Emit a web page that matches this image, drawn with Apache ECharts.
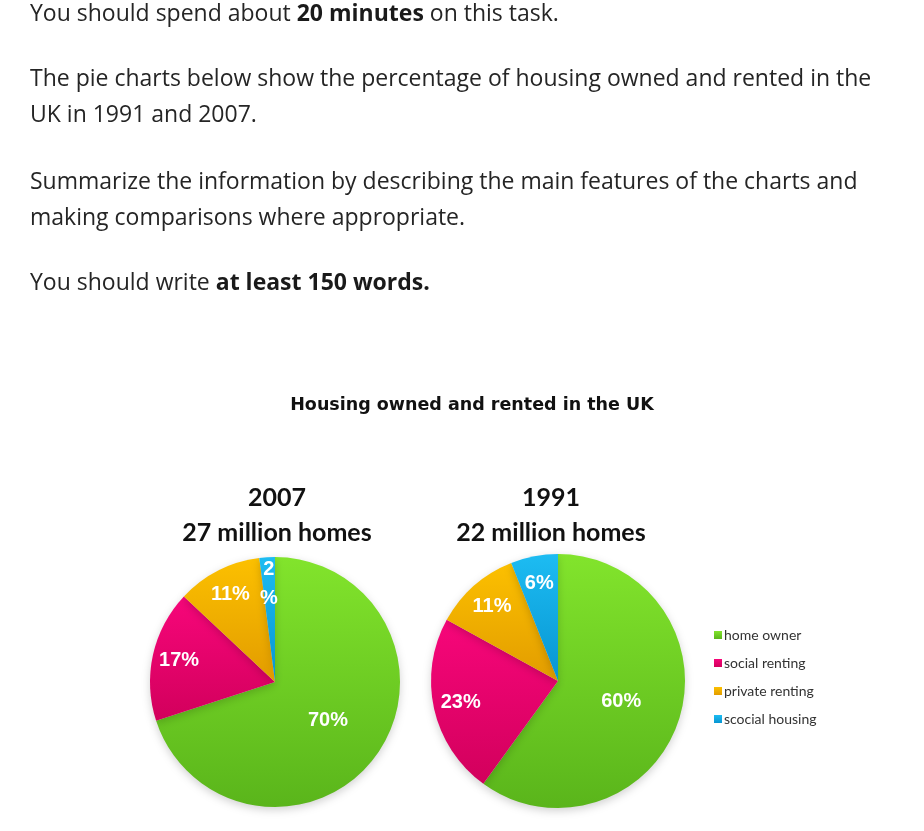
<!DOCTYPE html>
<html>
<head>
<meta charset="utf-8">
<script src="https://cdn.jsdelivr.net/npm/echarts@6/dist/echarts.min.js"></script>
<style>
  html, body { margin: 0; padding: 0; background: #fff; }
  #main { position: absolute; left: 0; top: 0; width: 924px; height: 831px; }
  .task { position: absolute; left: 30px; margin: 0; font-family: "Open Sans", sans-serif;
          font-size: 23px; line-height: 36px; color: #252525; z-index: 2; white-space: nowrap; }
  .task b { font-weight: 700; color: #1a1a1a; }
</style>
</head>
<body>
<p class="task" style="top:-6px;">You should spend about <b>20 minutes</b> on this task.</p>
<p class="task" style="top:59px;">The pie charts below show the percentage of housing owned and rented in the<br>UK in 1991 and 2007.</p>
<p class="task" style="top:162px;">Summarize the information by describing the main features of the charts and<br>making comparisons where appropriate.</p>
<p class="task" style="top:263px;">You should write <b>at least 150 words.</b></p>
<div id="main"></div>
<script>
// categories (legend keeps the original spelling)
const categories = ['home owner', 'social renting', 'private renting', 'scocial housing']
// percentages
const values2007 = [70, 17, 11, 2]
const values1991 = [60, 23, 11, 6]
const pieTitles = ['2007\n27 million homes', '1991\n22 million homes']

// gradient colours, light at the top, darker at the bottom
const sliceColors = [
  ['#82e42c', '#5ab51b'],
  ['#f7067a', '#d2005c'],
  ['#fcc000', '#e29c00'],
  ['#1dbcf2', '#0795d2']
]

const centers = [[275, 682], [558, 681]]

function buildData(values, wrapSmall) {
  return values.map((v, i) => {
    const item = {
      name: categories[i],
      value: v,
      itemStyle: {
        color: new echarts.graphic.LinearGradient(0, 0, 0, 1, [
          { offset: 0, color: sliceColors[i][0] },
          { offset: 1, color: sliceColors[i][1] }
        ])
      }
    }
    // the 2% label wraps onto two lines in the original
    if (wrapSmall && v < 5) {
      item.label = { width: 14, overflow: 'break', lineHeight: 29 }
    }
    return item
  })
}

const chart = echarts.init(document.getElementById('main'))

function pieSeries(values, idx, wrapSmall) {
  return {
    type: 'pie',
    center: centers[idx],
    radius: idx === 0 ? 125 : 127,
    startAngle: 90,
    clockwise: true,
    avoidLabelOverlap: false,
    data: buildData(values, wrapSmall),
    label: {
      show: true,
      position: 'inside',
      formatter: '{c}%',
      color: '#fff',
      fontFamily: 'Liberation Sans, Arial, sans-serif',
      fontWeight: 'bold',
      fontSize: 20
    },
    labelLine: { show: false },
    itemStyle: {
      shadowBlur: 8,
      shadowColor: 'rgba(0,0,0,0.18)',
      shadowOffsetY: 3
    },
    emphasis: { disabled: true },
    // push labels of the smaller slices further out, like the original
    labelLayout: function (params) {
      const c = centers[params.seriesIndex]
      const r = params.labelRect
      const lx = r.x + r.width / 2
      const ly = r.y + r.height / 2
      const v = (params.seriesIndex === 0 ? values2007 : values1991)[params.dataIndex]
      const k = v < 30 ? 1.5 : 1.0
      return { dx: (lx - c[0]) * (k - 1), dy: (ly - c[1]) * (k - 1) }
    }
  }
}

const option = {
  animation: false,
  title: [
    {
      text: 'Housing owned and rented in the UK',
      left: 467,
      top: 391,
      textAlign: 'center',
      textStyle: { fontFamily: 'DejaVu Sans, sans-serif', fontWeight: 'bold', fontSize: 17.5, color: '#111' }
    },
    {
      text: pieTitles[0],
      left: 272,
      top: 475,
      textAlign: 'center',
      textStyle: { fontFamily: 'Lato, sans-serif', fontWeight: 'bold', fontSize: 25, lineHeight: 35, color: '#111' }
    },
    {
      text: pieTitles[1],
      left: 546,
      top: 475,
      textAlign: 'center',
      textStyle: { fontFamily: 'Lato, sans-serif', fontWeight: 'bold', fontSize: 25, lineHeight: 35, color: '#111' }
    }
  ],
  legend: {
    orient: 'vertical',
    left: 709,
    top: 623,
    itemWidth: 8,
    itemHeight: 8,
    itemGap: 14,
    icon: 'rect',
    data: categories,
    textStyle: { fontFamily: 'Lato, sans-serif', fontSize: 14, color: '#333', padding: [0, 0, 0, -3] }
  },
  series: [
    pieSeries(values2007, 0, true),
    pieSeries(values1991, 1, false)
  ]
}
chart.setOption(option)
</script>
</body>
</html>
